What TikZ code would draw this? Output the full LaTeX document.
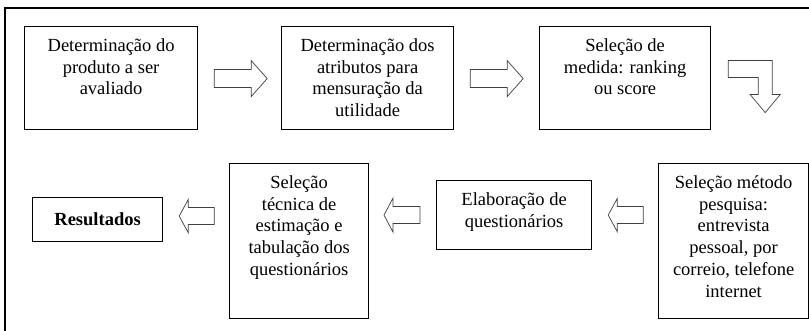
\documentclass[tikz,border=0pt]{standalone}
\usepackage{fontspec}
\setmainfont{Liberation Serif}
\newcommand\stagetext[3]{\parbox[c][#2][t]{#1}{\selectfont\centering\rule{0pt}{25pt}#3}}

\begin{document}
\begin{tikzpicture}[x=1pt,y=-1pt,
  stage/.style={draw,line width=1.2pt,inner sep=0pt,anchor=north west,
    font=\fontsize{18.5}{21.7}\selectfont},
  blockarrow/.style={draw=black!75,line width=0.7pt,fill=white}]
\useasboundingbox (0,0) rectangle (809,331);
\clip (0,0) rectangle (809,331);
\draw[line width=1.2pt] (5,345) -- (5,8) -- (830,8);

\node[stage] (produto) at (24,26) {\stagetext{173pt}{103pt}{Determinação do\\produto a ser\\avaliado}};
\node[stage] (atributos) at (281,26) {\stagetext{172pt}{103pt}{Determinação dos\\atributos para\\mensuração da\\utilidade}};
\node[stage] (medida) at (539,26) {\stagetext{171pt}{103pt}{Seleção de\\medida: ranking\\ou score}};
\node[stage] (metodo) at (658,163) {\stagetext{150pt}{155pt}{Seleção método\\pesquisa:\\entrevista\\pessoal, por\\correio, telefone\\internet}};
\node[stage] (questionario) at (436,180) {\stagetext{155pt}{69pt}{Elaboração de\\questionários}};
\node[stage] (tecnica) at (229,163) {\stagetext{139pt}{155pt}{Seleção\\técnica de\\estimação e\\tabulação dos\\questionários}};
\node[stage,minimum width=130pt,minimum height=44pt] (resultados) at (32,197) {\textbf{Resultados}};

\draw[blockarrow] ([xshift=16pt]produto.east) ++(0,-8.5) -- ++(37,0) -- ++(0,-9) -- ++(16,18) -- ++(-16,18) -- ++(0,-9) -- ++(-37,0) -- cycle;
\draw[blockarrow] ([xshift=16pt]atributos.east) ++(0,-8.5) -- ++(37,0) -- ++(0,-9) -- ++(16,18) -- ++(-16,18) -- ++(0,-9) -- ++(-37,0) -- cycle;
\draw[blockarrow] ([xshift=17pt]medida.east) ++(0,-17.5) -- ++(44,0) -- ++(0,34) -- ++(8,0) -- ++(-15,18) -- ++(-15,-18) -- ++(8,0) -- ++(0,-17) -- ++(-30,0) -- cycle;
\draw[blockarrow] ([xshift=16pt]questionario.east) -- ++(9,-16.5) -- ++(0,8) -- ++(26,0) -- ++(0,17) -- ++(-26,0) -- ++(0,8) -- cycle;
\draw[blockarrow] ([xshift=-52pt]questionario.west) -- ++(9,-17) -- ++(0,8.5) -- ++(27,0) -- ++(0,17) -- ++(-27,0) -- ++(0,8.5) -- cycle;
\draw[blockarrow] ([xshift=16pt,yshift=3.5pt]resultados.east) -- ++(9,-16.5) -- ++(0,8) -- ++(26,0) -- ++(0,17) -- ++(-26,0) -- ++(0,8) -- cycle;
\end{tikzpicture}
\end{document}
